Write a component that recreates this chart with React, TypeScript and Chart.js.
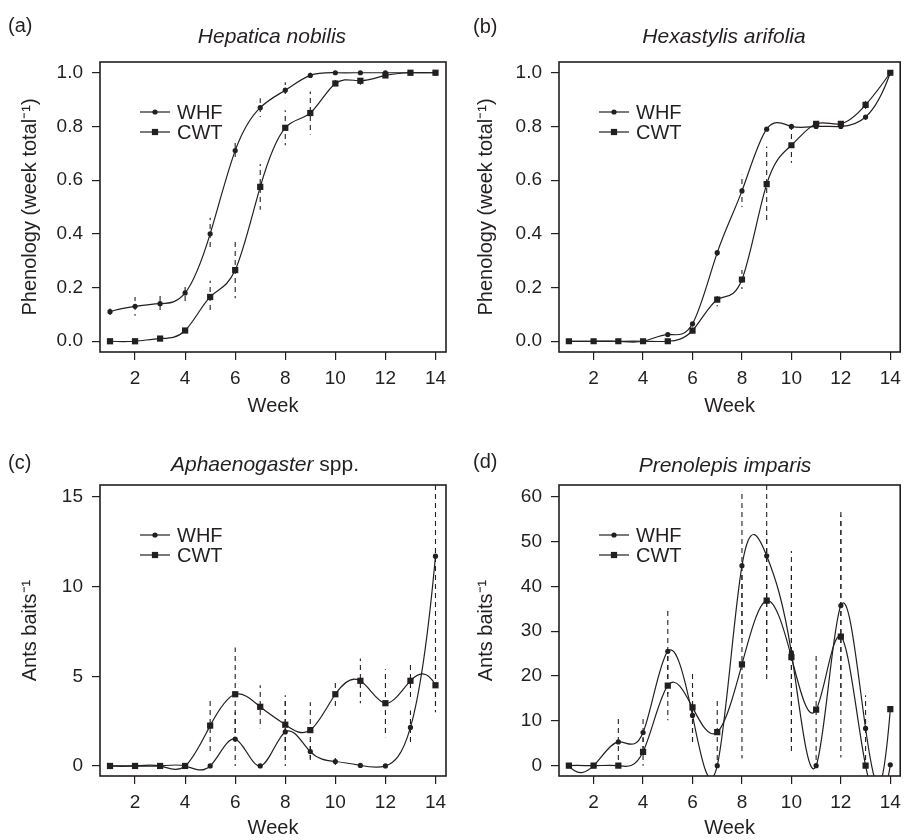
import React, { useEffect, useRef } from "react";
import { Chart, registerables } from "chart.js";

Chart.register(...registerables);

const FONT = '"Liberation Sans", Arial, Helvetica, sans-serif';
const INK = "#231f20";

// ---------- data ----------
const weeks = [1, 2, 3, 4, 5, 6, 7, 8, 9, 10, 11, 12, 13, 14];
const xTickValues = [2, 4, 6, 8, 10, 12, 14];
const seriesNames = ["WHF", "CWT"];

// (a) Hepatica nobilis
const hepaticaWHF = [0.11, 0.13, 0.14, 0.18, 0.40, 0.71, 0.87, 0.935, 0.99, 1.0, 1.0, 1.0, 1.0, 1.0];
const hepaticaWHFErr = [0.012, 0.035, 0.03, 0.035, 0.06, 0.035, 0.035, 0.03, 0.01, 0, 0, 0, 0, 0];
const hepaticaCWT = [0.0, 0.0, 0.01, 0.04, 0.165, 0.265, 0.575, 0.795, 0.85, 0.96, 0.97, 0.99, 1.0, 1.0];
const hepaticaCWTErr = [0, 0, 0, 0, 0.06, 0.105, 0.085, 0.065, 0.08, 0.02, 0.015, 0, 0, 0];

// (b) Hexastylis arifolia
const hexastylisWHF = [0, 0, 0, 0, 0.025, 0.065, 0.33, 0.56, 0.79, 0.8, 0.8, 0.8, 0.835, 1.0];
const hexastylisWHFErr = [0, 0, 0, 0, 0, 0.01, 0.02, 0.06, 0, 0, 0, 0, 0.01, 0];
const hexastylisCWT = [0, 0, 0, 0, 0, 0.04, 0.155, 0.23, 0.585, 0.73, 0.81, 0.81, 0.88, 1.0];
const hexastylisCWTErr = [0, 0, 0, 0, 0, 0.01, 0.025, 0.035, 0.14, 0.065, 0, 0, 0.015, 0];

// (c) Aphaenogaster spp.
const aphaenoWHF = [0, 0, 0, 0, 0, 1.5, 0, 1.9, 0.8, 0.25, 0.03, 0, 2.15, 11.7];
const aphaenoWHFErr = [0, 0, 0, 0, 0, 1.5, 0, 1.9, 0.6, 0.2, 0, 0, 0.95, 8.6];
const aphaenoCWT = [0, 0, 0, 0, 2.25, 4.0, 3.3, 2.3, 2.0, 4.0, 4.75, 3.5, 4.75, 4.5];
const aphaenoCWTErr = [0, 0, 0, 0, 1.6, 2.6, 1.2, 1.65, 1.55, 0.85, 1.25, 1.9, 1.05, 1.5];

// (d) Prenolepis imparis
const prenoWHF = [0, 0, 5.3, 7.4, 25.5, 11.2, 0, 44.6, 46.8, 25.2, 0, 35.7, 8.3, 0.2];
const prenoWHFErr = [0, 0, 5.2, 3.5, 9.5, 6.6, 0, 16.3, 28, 22.7, 0, 21, 7.4, 0];
const prenoCWT = [0, 0, 0, 3.1, 17.85, 13.0, 7.5, 22.6, 36.8, 24.2, 12.5, 28.8, 0, 12.6];
const prenoCWTErr = [0, 0, 0, 3.1, 7.7, 7.5, 7.6, 21, 15, 20, 12.1, 27, 0, 0];

const phenoTicks = [0, 0.2, 0.4, 0.6, 0.8, 1.0];
const aphaenoTicks = [0, 5, 10, 15];
const prenoTicks = [0, 10, 20, 30, 40, 50, 60];

// ---------- R-style (fmm) spline slopes, applied to the line's bezier control points ----------
function fmmSlopes(x: number[], y: number[]): number[] {
  const n = x.length;
  if (n < 2) return new Array(n).fill(0);
  if (n < 3) {
    const t = (y[1] - y[0]) / (x[1] - x[0]);
    return [t, t];
  }
  const X = [0, ...x];
  const Y = [0, ...y];
  const b = new Array(n + 1).fill(0);
  const c = new Array(n + 1).fill(0);
  const d = new Array(n + 1).fill(0);
  const nm1 = n - 1;
  d[1] = X[2] - X[1];
  c[2] = (Y[2] - Y[1]) / d[1];
  for (let i = 2; i < n; i++) {
    d[i] = X[i + 1] - X[i];
    b[i] = 2 * (d[i - 1] + d[i]);
    c[i + 1] = (Y[i + 1] - Y[i]) / d[i];
    c[i] = c[i + 1] - c[i];
  }
  b[1] = -d[1];
  b[n] = -d[nm1];
  c[1] = 0;
  c[n] = 0;
  if (n > 3) {
    c[1] = c[3] / (X[4] - X[2]) - c[2] / (X[3] - X[1]);
    c[n] = c[nm1] / (X[n] - X[n - 2]) - c[n - 2] / (X[nm1] - X[n - 3]);
    c[1] = (c[1] * d[1] * d[1]) / (X[4] - X[1]);
    c[n] = (-c[n] * d[nm1] * d[nm1]) / (X[n] - X[n - 3]);
  }
  for (let i = 2; i <= n; i++) {
    const t = d[i - 1] / b[i - 1];
    b[i] = b[i] - t * d[i - 1];
    c[i] = c[i] - t * c[i - 1];
  }
  c[n] = c[n] / b[n];
  for (let i = nm1; i >= 1; i--) c[i] = (c[i] - d[i] * c[i + 1]) / b[i];
  b[n] = (Y[n] - Y[n - 1]) / d[nm1] + d[nm1] * (c[nm1] + 2 * c[n]);
  for (let i = 1; i <= nm1; i++) {
    b[i] = (Y[i + 1] - Y[i]) / d[i] - d[i] * (c[i + 1] + 2 * c[i]);
  }
  return b.slice(1);
}

const splinePlugin = {
  id: "rSpline",
  beforeDatasetsDraw(chart: any) {
    chart.data.datasets.forEach((_ds: any, i: number) => {
      const meta = chart.getDatasetMeta(i);
      if (!meta || !meta.dataset) return;
      const pts = meta.data;
      const xs = pts.map((p: any) => p.x);
      const ys = pts.map((p: any) => p.y);
      const m = fmmSlopes(xs, ys);
      for (let k = 0; k < pts.length; k++) {
        const p = pts[k];
        const hPrev = k > 0 ? xs[k] - xs[k - 1] : 0;
        const hNext = k < pts.length - 1 ? xs[k + 1] - xs[k] : 0;
        p.cp1x = xs[k] - hPrev / 3;
        p.cp1y = ys[k] - (m[k] * hPrev) / 3;
        p.cp2x = xs[k] + hNext / 3;
        p.cp2y = ys[k] + (m[k] * hNext) / 3;
      }
      meta.dataset._pointsUpdated = true;
    });
  },
};

const DASH = [5, 4];
const DASH_PERIOD = 9;

const errorBarPlugin = {
  id: "errorBars",
  beforeDatasetsDraw(chart: any) {
    const { ctx, chartArea: a, scales } = chart;
    ctx.save();
    ctx.beginPath();
    ctx.rect(a.left, a.top, a.right - a.left, a.bottom - a.top);
    ctx.clip();
    ctx.strokeStyle = INK;
    ctx.lineWidth = 1.1;
    ctx.setLineDash(DASH);
    chart.data.datasets.forEach((ds: any) => {
      const errs: number[] = ds.errors || [];
      ds.data.forEach((pt: any, k: number) => {
        const e = errs[k];
        if (!e) return;
        const x = scales.x.getPixelForValue(pt.x);
        const yTop = scales.y.getPixelForValue(pt.y + e);
        const yBot = scales.y.getPixelForValue(pt.y - e);
        // keep dash phase anchored to a common origin so overlapping bars line up
        const phase = (((yTop - a.top) % DASH_PERIOD) + DASH_PERIOD) % DASH_PERIOD;
        ctx.lineDashOffset = phase;
        ctx.beginPath();
        ctx.moveTo(x, yTop);
        ctx.lineTo(x, yBot);
        ctx.stroke();
      });
    });
    ctx.restore();
  },
};

const frameLegendPlugin = {
  id: "frameLegend",
  afterDraw(chart: any) {
    const { ctx, chartArea: a } = chart;
    ctx.save();
    ctx.setLineDash([]);
    ctx.strokeStyle = INK;
    ctx.lineWidth = 1.6;
    ctx.strokeRect(a.left, a.top, a.right - a.left, a.bottom - a.top);
    ctx.font = `20px ${FONT}`;
    ctx.textBaseline = "middle";
    ctx.fillStyle = INK;
    chart.data.datasets.forEach((ds: any, i: number) => {
      const y = a.top + 50 + i * 20;
      const x0 = a.left + 40;
      ctx.lineWidth = 1.2;
      ctx.beginPath();
      ctx.moveTo(x0, y);
      ctx.lineTo(x0 + 30, y);
      ctx.stroke();
      if (ds.pointStyle === "rect") {
        const s = ds.pointRadius * Math.SQRT1_2;
        ctx.fillRect(x0 + 15 - s, y - s, 2 * s, 2 * s);
      } else {
        ctx.beginPath();
        ctx.arc(x0 + 15, y, ds.pointRadius, 0, Math.PI * 2);
        ctx.fill();
      }
      ctx.fillText(ds.label, x0 + 37, y + 1);
    });
    ctx.restore();
  },
};

type PanelSpec = {
  left: number;
  top: number;
  width: number;
  height: number;
  padTop: number;
  padRight: number;
  xMin: number;
  xMax: number;
  yMin: number;
  yMax: number;
  yTicks: number[];
  yDecimals: number;
  yTitle: string;
  yTitlePad: number;
  xAxisHeight: number;
  xTitlePad: number;
  whf: number[];
  whfErr: number[];
  cwt: number[];
  cwtErr: number[];
};

const panels: PanelSpec[] = [
  {
    left: 0, top: 0, width: 454, height: 420, padTop: 62, padRight: 8,
    xMin: 0.6, xMax: 14.42, yMin: -0.04, yMax: 1.04, yTicks: phenoTicks, yDecimals: 1,
    yTitle: "Phenology (week total\u207B\u00B9)", yTitlePad: 18, xAxisHeight: 68, xTitlePad: 2,
    whf: hepaticaWHF, whfErr: hepaticaWHFErr, cwt: hepaticaCWT, cwtErr: hepaticaCWTErr,
  },
  {
    left: 459, top: 0, width: 449, height: 420, padTop: 62, padRight: 3,
    xMin: 0.6, xMax: 14.4, yMin: -0.04, yMax: 1.04, yTicks: phenoTicks, yDecimals: 1,
    yTitle: "Phenology (week total\u207B\u00B9)", yTitlePad: 15, xAxisHeight: 68, xTitlePad: 2,
    whf: hexastylisWHF, whfErr: hexastylisWHFErr, cwt: hexastylisCWT, cwtErr: hexastylisCWTErr,
  },
  {
    left: 0, top: 420, width: 454, height: 420, padTop: 65, padRight: 8,
    xMin: 0.6, xMax: 14.42, yMin: -0.56, yMax: 15.67, yTicks: aphaenoTicks, yDecimals: 0,
    yTitle: "Ants baits\u207B\u00B9", yTitlePad: 18, xAxisHeight: 64, xTitlePad: 0,
    whf: aphaenoWHF, whfErr: aphaenoWHFErr, cwt: aphaenoCWT, cwtErr: aphaenoCWTErr,
  },
  {
    left: 459, top: 420, width: 449, height: 420, padTop: 65, padRight: 3,
    xMin: 0.6, xMax: 14.4, yMin: -2.3, yMax: 62.6, yTicks: prenoTicks, yDecimals: 0,
    yTitle: "Ants baits\u207B\u00B9", yTitlePad: 15, xAxisHeight: 64, xTitlePad: 0,
    whf: prenoWHF, whfErr: prenoWHFErr, cwt: prenoCWT, cwtErr: prenoCWTErr,
  },
];

function PanelChart({ spec }: { spec: PanelSpec }) {
  const ref = useRef<HTMLCanvasElement | null>(null);
  useEffect(() => {
    if (!ref.current) return;
    const grid = {
      drawOnChartArea: false,
      drawTicks: true,
      tickLength: 8,
      color: INK,
      lineWidth: 1.2,
    };
    const mk = (name: string, vals: number[], errs: number[], style: string, r: number) => ({
      label: name,
      data: weeks.map((w, i) => ({ x: w, y: vals[i] })),
      errors: errs,
      borderColor: INK,
      borderWidth: 1.2,
      backgroundColor: INK,
      pointStyle: style,
      pointRadius: r,
      pointBackgroundColor: INK,
      pointBorderColor: INK,
      pointBorderWidth: 0,
      tension: 0.4,
      fill: false,
    });
    const chart = new Chart(ref.current, {
      type: "line",
      data: {
        datasets: [
          mk(seriesNames[0], spec.whf, spec.whfErr, "circle", 2.6),
          mk(seriesNames[1], spec.cwt, spec.cwtErr, "rect", 4.4),
        ] as any,
      },
      options: {
        responsive: false,
        animation: false,
        events: [],
        layout: { padding: { top: spec.padTop, right: spec.padRight, left: 0, bottom: 0 } },
        plugins: { legend: { display: false }, tooltip: { enabled: false } },
        scales: {
          x: {
            type: "linear",
            min: spec.xMin,
            max: spec.xMax,
            afterBuildTicks: (s: any) => {
              s.ticks = xTickValues.map((v) => ({ value: v }));
            },
            afterFit: (s: any) => {
              s.height = spec.xAxisHeight;
            },
            grid,
            border: { display: false },
            ticks: {
              font: { size: 19, family: FONT },
              color: INK,
              padding: 7,
              maxRotation: 0,
              autoSkip: false,
              callback: (v: any) => String(v),
            },
            title: {
              display: true,
              text: "Week",
              font: { size: 20, family: FONT },
              color: INK,
              padding: { top: 0, bottom: spec.xTitlePad },
            },
          },
          y: {
            type: "linear",
            min: spec.yMin,
            max: spec.yMax,
            afterBuildTicks: (s: any) => {
              s.ticks = spec.yTicks.map((v) => ({ value: v }));
            },
            afterFit: (s: any) => {
              s.width = 100;
            },
            grid,
            border: { display: false },
            ticks: {
              font: { size: 19, family: FONT },
              color: INK,
              padding: 9,
              callback: (v: any) => Number(v).toFixed(spec.yDecimals),
            },
            title: {
              display: true,
              text: spec.yTitle,
              font: { size: 20, family: FONT },
              color: INK,
              padding: { top: spec.yTitlePad, bottom: 0 },
            },
          },
        },
      } as any,
      plugins: [splinePlugin, errorBarPlugin, frameLegendPlugin],
    });
    return () => chart.destroy();
  }, [spec]);
  return (
    <canvas
      ref={ref}
      width={spec.width}
      height={spec.height}
      style={{ position: "absolute", left: spec.left, top: spec.top, width: spec.width, height: spec.height }}
    />
  );
}

const labelStyle = (left: number, top: number): React.CSSProperties => ({
  position: "absolute",
  left,
  top,
  fontSize: 20,
  lineHeight: "24px",
  whiteSpace: "nowrap",
});

const titleStyle = (cx: number, top: number): React.CSSProperties => ({
  position: "absolute",
  left: cx - 150,
  top,
  width: 300,
  textAlign: "center",
  fontSize: 21,
  lineHeight: "24px",
  whiteSpace: "nowrap",
});

export default function App() {
  return (
    <div
      style={{
        position: "absolute",
        left: 0,
        top: 0,
        width: 908,
        height: 840,
        background: "#fff",
        fontFamily: FONT,
        color: INK,
        overflow: "hidden",
      }}
    >
      {panels.map((p, i) => (
        <PanelChart key={i} spec={p} />
      ))}
      <div style={labelStyle(8, 13)}>(a)</div>
      <div style={labelStyle(473, 14)}>(b)</div>
      <div style={labelStyle(8, 450)}>(c)</div>
      <div style={labelStyle(473, 449)}>(d)</div>
      <div style={titleStyle(272, 24)}>
        <i>Hepatica nobilis</i>
      </div>
      <div style={titleStyle(724, 24)}>
        <i>Hexastylis arifolia</i>
      </div>
      <div style={titleStyle(265, 452)}>
        <i>Aphaenogaster</i> spp.
      </div>
      <div style={titleStyle(725, 453)}>
        <i>Prenolepis imparis</i>
      </div>
    </div>
  );
}
